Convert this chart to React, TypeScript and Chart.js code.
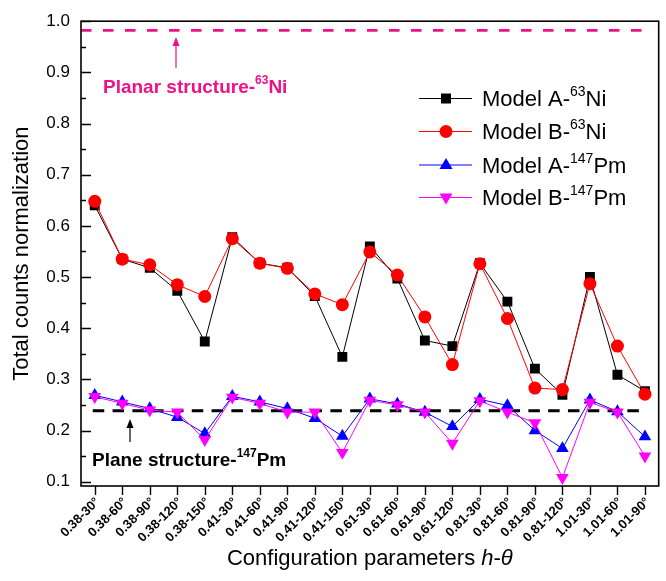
import React, { useEffect, useRef } from "react";
import { Chart, registerables } from "chart.js";

Chart.register(...registerables);

const categories = [
  "0.38-30°", "0.38-60°", "0.38-90°", "0.38-120°", "0.38-150°",
  "0.41-30°", "0.41-60°", "0.41-90°", "0.41-120°", "0.41-150°",
  "0.61-30°", "0.61-60°", "0.61-90°", "0.61-120°",
  "0.81-30°", "0.81-60°", "0.81-90°", "0.81-120°",
  "1.01-30°", "1.01-60°", "1.01-90°",
];

const modelA_Ni = [0.640, 0.535, 0.518, 0.473, 0.374, 0.578, 0.527, 0.518, 0.463, 0.344, 0.560, 0.497, 0.376, 0.365, 0.527, 0.452, 0.321, 0.270, 0.500, 0.309, 0.277];
const modelB_Ni = [0.648, 0.535, 0.524, 0.485, 0.462, 0.575, 0.527, 0.517, 0.467, 0.446, 0.549, 0.504, 0.422, 0.329, 0.526, 0.419, 0.283, 0.280, 0.487, 0.365, 0.271];
const modelA_Pm = [0.269, 0.256, 0.243, 0.226, 0.194, 0.267, 0.256, 0.243, 0.224, 0.189, 0.262, 0.252, 0.236, 0.208, 0.261, 0.249, 0.200, 0.165, 0.260, 0.237, 0.188];
const modelB_Pm = [0.266, 0.253, 0.240, 0.236, 0.182, 0.265, 0.253, 0.236, 0.236, 0.157, 0.259, 0.250, 0.236, 0.175, 0.258, 0.236, 0.215, 0.108, 0.255, 0.236, 0.150];

const yTicks = [0.1, 0.2, 0.3, 0.4, 0.5, 0.6, 0.7, 0.8, 0.9, 1.0];
const yMinorTicks = [0.15, 0.25, 0.35, 0.45, 0.55, 0.65, 0.75, 0.85, 0.95];

const planarNi = 0.982;
const planePm = 0.2385;

const FONT = "'Liberation Sans', Arial, sans-serif";
const PINK = "#ee1188";

type LegendItem = { base: string; sup: string; tail: string; color: string; marker: string };
const legendItems: LegendItem[] = [
  { base: "Model A-", sup: "63", tail: "Ni", color: "#000000", marker: "square" },
  { base: "Model B-", sup: "63", tail: "Ni", color: "#ff0000", marker: "circle" },
  { base: "Model A-", sup: "147", tail: "Pm", color: "#0000ff", marker: "up" },
  { base: "Model B-", sup: "147", tail: "Pm", color: "#ff00ff", marker: "down" },
];

function drawMarker(ctx: CanvasRenderingContext2D, kind: string, x: number, y: number, color: string) {
  ctx.save();
  ctx.fillStyle = color;
  ctx.beginPath();
  if (kind === "square") {
    ctx.rect(x - 5, y - 5, 10, 10);
  } else if (kind === "circle") {
    ctx.arc(x, y, 6.5, 0, Math.PI * 2);
  } else if (kind === "up") {
    ctx.moveTo(x, y - 7);
    ctx.lineTo(x + 6.5, y + 4);
    ctx.lineTo(x - 6.5, y + 4);
    ctx.closePath();
  } else {
    ctx.moveTo(x, y + 7);
    ctx.lineTo(x + 6.5, y - 4);
    ctx.lineTo(x - 6.5, y - 4);
    ctx.closePath();
  }
  ctx.fill();
  ctx.restore();
}

function drawSupText(
  ctx: CanvasRenderingContext2D, x: number, y: number,
  base: string, sup: string, tail: string,
  mainFont: string, supFont: string, rise: number
) {
  ctx.textAlign = "left";
  ctx.textBaseline = "alphabetic";
  ctx.font = mainFont;
  ctx.fillText(base, x, y);
  let cx = x + ctx.measureText(base).width;
  ctx.font = supFont;
  ctx.fillText(sup, cx, y - rise);
  cx += ctx.measureText(sup).width;
  ctx.font = mainFont;
  ctx.fillText(tail, cx, y);
}

const decorPlugin = {
  id: "decor",
  beforeDatasetsDraw(chart: any) {
    const ctx: CanvasRenderingContext2D = chart.ctx;
    const x = chart.scales.x;
    const y = chart.scales.y;
    const area = chart.chartArea;
    ctx.save();
    // planar Ni line
    ctx.strokeStyle = PINK;
    ctx.lineWidth = 2.6;
    ctx.setLineDash([10.5, 11.5]);
    ctx.beginPath();
    const yp = y.getPixelForValue(planarNi);
    ctx.moveTo(area.left, yp);
    ctx.lineTo(x.getPixelForValue(20) + 3, yp);
    ctx.stroke();
    // plane Pm line
    ctx.strokeStyle = "#000000";
    ctx.lineWidth = 3;
    ctx.setLineDash([11.5, 8.3]);
    ctx.beginPath();
    const yb = y.getPixelForValue(planePm);
    ctx.moveTo(x.getPixelForValue(0) - 2, yb);
    ctx.lineTo(x.getPixelForValue(20) + 2, yb);
    ctx.stroke();
    ctx.restore();
  },
  afterDraw(chart: any) {
    const ctx: CanvasRenderingContext2D = chart.ctx;
    const x = chart.scales.x;
    const y = chart.scales.y;
    const a = chart.chartArea;
    ctx.save();
    ctx.setLineDash([]);
    ctx.strokeStyle = "#000";
    ctx.fillStyle = "#000";
    // frame
    ctx.lineWidth = 1.6;
    ctx.strokeRect(a.left, a.top, a.right - a.left, a.bottom - a.top);
    // y ticks inward
    ctx.lineWidth = 1.4;
    ctx.beginPath();
    yTicks.forEach((v) => {
      const py = Math.round(y.getPixelForValue(v)) + 0.5;
      ctx.moveTo(a.left, py);
      ctx.lineTo(a.left + 10, py);
    });
    yMinorTicks.forEach((v) => {
      const py = Math.round(y.getPixelForValue(v)) + 0.5;
      ctx.moveTo(a.left, py);
      ctx.lineTo(a.left + 5, py);
    });
    // x ticks outward
    categories.forEach((_, i) => {
      const px = Math.round(x.getPixelForValue(i)) + 0.5;
      ctx.moveTo(px, a.bottom);
      ctx.lineTo(px, a.bottom + 9);
    });
    ctx.stroke();

    // x tick labels rotated
    ctx.font = `bold 13px ${FONT}`;
    ctx.textAlign = "right";
    ctx.textBaseline = "middle";
    categories.forEach((lab, i) => {
      const px = x.getPixelForValue(i);
      ctx.save();
      ctx.translate(px + 3, a.bottom + 14);
      ctx.rotate(-Math.PI / 4);
      ctx.fillText(lab, 0, 0);
      ctx.restore();
    });

    // axis titles
    ctx.save();
    ctx.translate(28, (a.top + a.bottom) / 2);
    ctx.rotate(-Math.PI / 2);
    ctx.font = `22px ${FONT}`;
    ctx.textAlign = "center";
    ctx.textBaseline = "alphabetic";
    ctx.fillText("Total counts normalization", 0, 0);
    ctx.restore();

    const parts: [string, boolean][] = [["Configuration parameters ", false], ["h", true], ["-", false], ["θ", true]];
    let total = 0;
    parts.forEach(([t, it]) => {
      ctx.font = `${it ? "italic " : ""}22px ${FONT}`;
      total += ctx.measureText(t).width;
    });
    let cx = (a.left + a.right) / 2 - total / 2;
    ctx.textAlign = "left";
    ctx.textBaseline = "alphabetic";
    parts.forEach(([t, it]) => {
      ctx.font = `${it ? "italic " : ""}22px ${FONT}`;
      ctx.fillText(t, cx, 565);
      cx += ctx.measureText(t).width;
    });

    // annotations
    ctx.fillStyle = PINK;
    drawSupText(ctx, 103, 92.5, "Planar structure-", "63", "Ni", `bold 19px ${FONT}`, `bold 12px ${FONT}`, 9);
    ctx.strokeStyle = PINK;
    ctx.lineWidth = 1.2;
    ctx.beginPath();
    ctx.moveTo(176, 68);
    ctx.lineTo(176, 44);
    ctx.stroke();
    ctx.beginPath();
    ctx.moveTo(176, 37);
    ctx.lineTo(179.5, 46);
    ctx.lineTo(172.5, 46);
    ctx.closePath();
    ctx.fill();

    ctx.fillStyle = "#000";
    drawSupText(ctx, 92, 466, "Plane structure-", "147", "Pm", `bold 19px ${FONT}`, `bold 12px ${FONT}`, 9);
    ctx.strokeStyle = "#000";
    ctx.beginPath();
    ctx.moveTo(130, 442);
    ctx.lineTo(130, 426);
    ctx.stroke();
    ctx.beginPath();
    ctx.moveTo(130, 419);
    ctx.lineTo(133.5, 428);
    ctx.lineTo(126.5, 428);
    ctx.closePath();
    ctx.fill();

    // legend
    const rows = [98, 131, 164.5, 197];
    legendItems.forEach((it, i) => {
      const ry = rows[i];
      ctx.strokeStyle = it.color;
      ctx.lineWidth = 1;
      ctx.beginPath();
      ctx.moveTo(419, ry + 0.5);
      ctx.lineTo(472, ry + 0.5);
      ctx.stroke();
      drawMarker(ctx, it.marker, 446, ry + 0.5, it.color);
      ctx.fillStyle = "#000";
      drawSupText(ctx, 482, ry + 8, it.base, it.sup, it.tail, `22px ${FONT}`, `14px ${FONT}`, 10);
    });
    ctx.restore();
  },
};

export default function App() {
  const ref = useRef<HTMLCanvasElement | null>(null);
  useEffect(() => {
    if (!ref.current) return;
    const chart = new Chart(ref.current, {
      type: "line",
      data: {
        labels: categories,
        datasets: [
          {
            label: "Model A-63Ni", data: modelA_Ni, borderColor: "#000000", backgroundColor: "#000000",
            borderWidth: 1, pointStyle: "rect", pointRadius: 7, pointBorderWidth: 0, order: 4,
          },
          {
            label: "Model B-63Ni", data: modelB_Ni, borderColor: "#ff0000", backgroundColor: "#ff0000",
            borderWidth: 1, pointStyle: "circle", pointRadius: 6.5, pointBorderWidth: 0, order: 3,
          },
          {
            label: "Model A-147Pm", data: modelA_Pm, borderColor: "#0000ff", backgroundColor: "#0000ff",
            borderWidth: 1, pointStyle: "triangle", pointRadius: 7.3, pointBorderWidth: 0, order: 2,
          },
          {
            label: "Model B-147Pm", data: modelB_Pm, borderColor: "#ff00ff", backgroundColor: "#ff00ff",
            borderWidth: 1, pointStyle: "triangle", pointRotation: 180, pointRadius: 7.3, pointBorderWidth: 0, order: 1,
          },
        ],
      },
      options: {
        responsive: false,
        animation: false,
        devicePixelRatio: 1,
        layout: { padding: { top: 20, right: 7, left: 0, bottom: 0 } },
        plugins: { legend: { display: false }, tooltip: { enabled: false } },
        scales: {
          x: {
            type: "category",
            offset: true,
            grid: { display: false },
            border: { display: false },
            ticks: { display: false },
            afterFit: (s: any) => { s.height = 95; },
          },
          y: {
            min: 0.0916,
            max: 1.0,
            grid: { display: false, drawTicks: false },
            border: { display: false },
            afterBuildTicks: (s: any) => { s.ticks = yTicks.map((v) => ({ value: v })); },
            afterFit: (s: any) => { s.width = 81; },
            ticks: {
              padding: 11,
              color: "#000",
              font: { family: FONT, size: 17 },
              callback: (v: any) => Number(v).toFixed(1),
            },
          },
        },
      },
      plugins: [decorPlugin],
    });
    return () => chart.destroy();
  }, []);
  return (
    <div style={{ position: "absolute", left: 0, top: 0, width: 666, height: 581, background: "#fff" }}>
      <canvas ref={ref} width={666} height={581} style={{ width: 666, height: 581 }} />
    </div>
  );
}
